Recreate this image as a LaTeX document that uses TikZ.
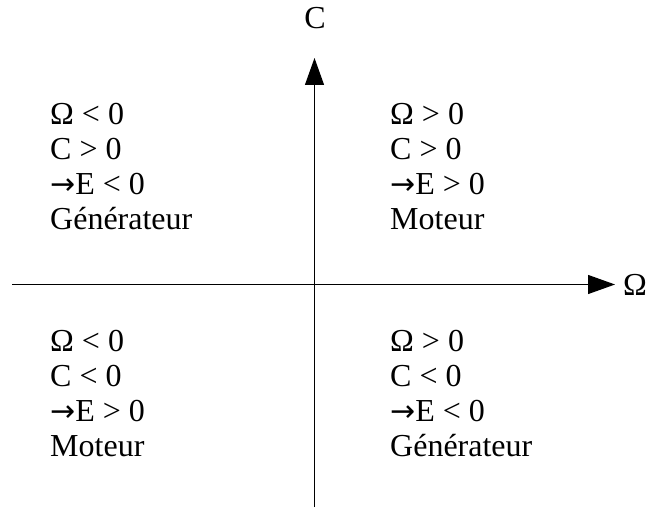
\documentclass[tikz,border=0pt]{standalone}
\usepackage{fontspec}
\setmainfont{Liberation Serif}
\newfontfamily\arrfont{DejaVu Sans}
\newcommand{\myarr}{{\arrfont\fontsize{30}{35}\selectfont →}}
\usetikzlibrary{arrows.meta}
\begin{document}
\begin{tikzpicture}[x=1pt,y=1pt,
  axis/.style={line width=1.2pt,-{Triangle[length=27pt,width=19pt]}},
  lbl/.style={inner sep=0pt,font=\fontsize{32}{35}\selectfont},
  txt/.style={lbl,anchor=base west}]
\useasboundingbox (0,0) rectangle (647,508);
% axes
\coordinate (xs) at (12,223.5);
\coordinate (xe) at (615,223.5);
\coordinate (ys) at (314.5,1);
\coordinate (ye) at (314.5,450);
\draw[axis] (xs) -- (xe);
\draw[axis] (ys) -- (ye);
\node[lbl,anchor=west] (om) at (623,223.5) {Ω};
\node[lbl] (cc) at (315,490) {C};
% top-left
\node[txt] (a1) at (50,383) {Ω < 0};
\node[txt] (a2) at (50,348) {C > 0};
\node[txt] (a3) at (50,313) {\myarr E < 0};
\node[txt] (a4) at (50,278) {Générateur};
% top-right
\node[txt] (b1) at (390,383) {Ω > 0};
\node[txt] (b2) at (390,348) {C > 0};
\node[txt] (b3) at (390,313) {\myarr E > 0};
\node[txt] (b4) at (390,278) {Moteur};
% bottom-left
\node[txt] (c1) at (50,156.5) {Ω < 0};
\node[txt] (c2) at (50,121.5) {C < 0};
\node[txt] (c3) at (50,86.5) {\myarr E > 0};
\node[txt] (c4) at (50,51.5) {Moteur};
% bottom-right
\node[txt] (d1) at (390,156.5) {Ω > 0};
\node[txt] (d2) at (390,121.5) {C < 0};
\node[txt] (d3) at (390,86.5) {\myarr E < 0};
\node[txt] (d4) at (390,51.5) {Générateur};
\end{tikzpicture}
\end{document}
